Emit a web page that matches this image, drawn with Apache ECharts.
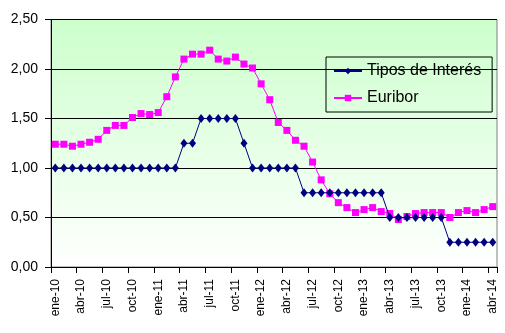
<!DOCTYPE html>
<html>
<head>
<meta charset="utf-8">
<script src="https://cdn.jsdelivr.net/npm/echarts@6/dist/echarts.min.js"></script>
<style>
  html, body { margin: 0; padding: 0; background: #ffffff; }
  #chart { width: 505px; height: 333px; }
</style>
</head>
<body>
<div id="chart"></div>
<script>
// Monthly categories, January 2010 to April 2014
var months = [
  'ene-10','feb-10','mar-10','abr-10','may-10','jun-10','jul-10','ago-10','sep-10','oct-10','nov-10','dic-10',
  'ene-11','feb-11','mar-11','abr-11','may-11','jun-11','jul-11','ago-11','sep-11','oct-11','nov-11','dic-11',
  'ene-12','feb-12','mar-12','abr-12','may-12','jun-12','jul-12','ago-12','sep-12','oct-12','nov-12','dic-12',
  'ene-13','feb-13','mar-13','abr-13','may-13','jun-13','jul-13','ago-13','sep-13','oct-13','nov-13','dic-13',
  'ene-14','feb-14','mar-14','abr-14'
];

// ECB official rate (%)
var tiposInteres = [
  1.00,1.00,1.00,1.00,1.00,1.00,1.00,1.00,1.00,1.00,1.00,1.00,
  1.00,1.00,1.00,1.25,1.25,1.50,1.50,1.50,1.50,1.50,1.25,1.00,
  1.00,1.00,1.00,1.00,1.00,0.75,0.75,0.75,0.75,0.75,0.75,0.75,
  0.75,0.75,0.75,0.50,0.50,0.50,0.50,0.50,0.50,0.50,0.25,0.25,
  0.25,0.25,0.25,0.25
];

// 12-month Euribor (%)
var euribor = [
  1.24,1.24,1.22,1.24,1.26,1.29,1.38,1.43,1.43,1.51,1.55,1.54,
  1.56,1.72,1.92,2.10,2.15,2.15,2.19,2.10,2.08,2.12,2.05,2.01,
  1.85,1.69,1.46,1.38,1.28,1.22,1.06,0.88,0.74,0.65,0.60,0.55,
  0.58,0.60,0.56,0.54,0.48,0.51,0.54,0.55,0.55,0.55,0.50,0.55,
  0.57,0.55,0.58,0.61
];

var yMin = 0, yMax = 2.5, yStep = 0.5;
var fontFamily = '"Liberation Sans", Arial, sans-serif';

var chart = echarts.init(document.getElementById('chart'), null, { renderer: 'canvas' });

chart.setOption({
  animation: false,
  backgroundColor: '#ffffff',
  textStyle: { fontFamily: fontFamily, color: '#000000' },
  grid: {
    left: 51, right: 8, top: 19.5, bottom: 66,
    show: true,
    borderColor: '#808080',
    borderWidth: 1,
    backgroundColor: new echarts.graphic.LinearGradient(0, 0, 0, 1, [
      { offset: 0, color: '#ccffcc' },
      { offset: 1, color: '#ffffff' }
    ])
  },
  legend: {
    orient: 'vertical',
    left: 326, top: 57,
    padding: [6, 11, 6, 7],
    itemGap: 11,
    itemWidth: 28,
    itemHeight: 8,
    borderColor: '#000000',
    borderWidth: 1,
    backgroundColor: 'transparent',
    textStyle: { fontFamily: fontFamily, fontSize: 16, color: '#000000' },
    data: ['Tipos de Interés', 'Euribor']
  },
  xAxis: {
    type: 'category',
    data: months,
    boundaryGap: true,
    axisLine: { lineStyle: { color: '#000000', width: 1 } },
    axisTick: { show: true, interval: 2, length: 6, lineStyle: { color: '#000000' } },
    axisLabel: {
      interval: 2, rotate: 90, margin: 12,
      fontSize: 12, fontFamily: fontFamily, color: '#000000'
    },
    splitLine: { show: false }
  },
  yAxis: {
    type: 'value',
    min: yMin, max: yMax, interval: yStep,
    axisLine: { show: true, lineStyle: { color: '#000000', width: 1 } },
    axisTick: { show: true, length: 6, lineStyle: { color: '#000000' } },
    axisLabel: {
      margin: 13, fontSize: 14, fontFamily: fontFamily, color: '#000000',
      formatter: function (v) { return v.toFixed(2).replace('.', ','); }
    },
    splitLine: { show: true, lineStyle: { color: '#000000', width: 1 } }
  },
  series: [
    {
      name: 'Tipos de Interés',
      type: 'line',
      data: tiposInteres,
      symbol: 'diamond',
      symbolSize: [7, 9],
      showAllSymbol: true,
      lineStyle: { color: '#000080', width: 1 },
      itemStyle: { color: '#000080', borderWidth: 0 },
      z: 3
    },
    {
      name: 'Euribor',
      type: 'line',
      data: euribor,
      symbol: 'rect',
      symbolSize: 7,
      showAllSymbol: true,
      lineStyle: { color: '#ff00ff', width: 1 },
      itemStyle: { color: '#ff00ff', borderWidth: 0 },
      z: 2
    }
  ]
});
</script>
</body>
</html>
